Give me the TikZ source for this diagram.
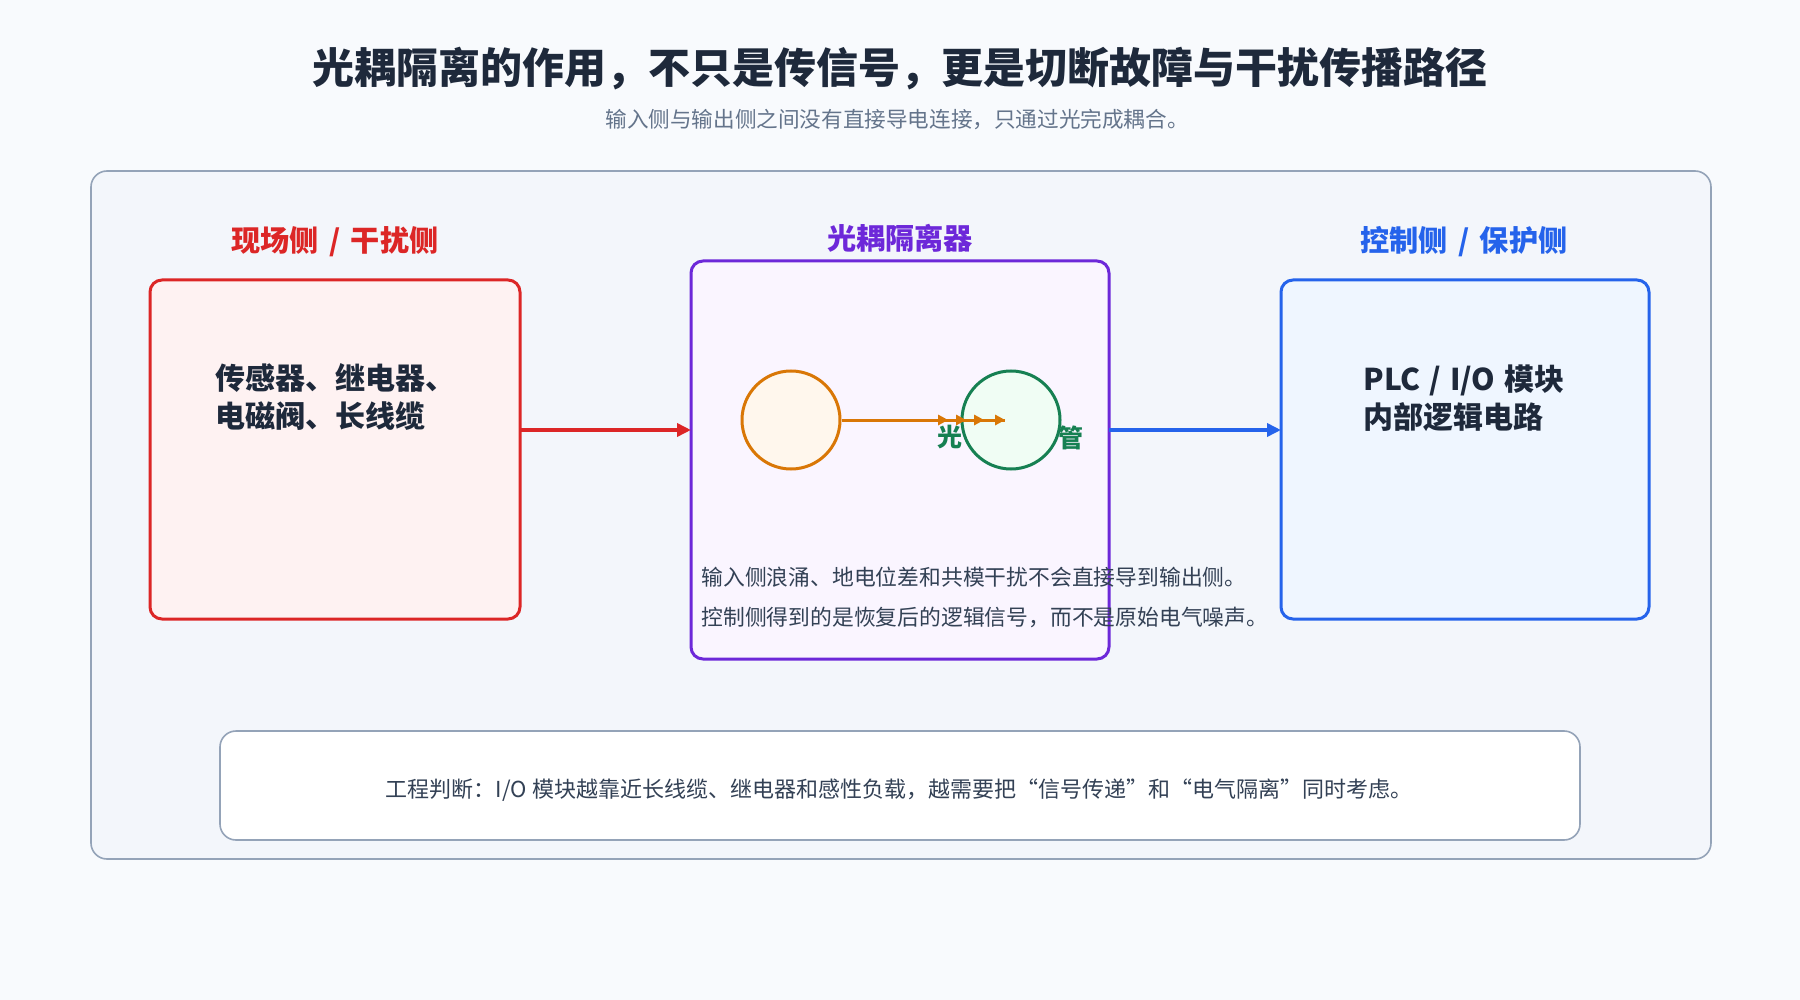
\documentclass[tikz,border=0pt]{standalone}
\usepackage{fontspec}
\setmainfont{Noto Sans CJK SC}
\usetikzlibrary{arrows.meta}
\definecolor{pagebg}{HTML}{F8FAFD}
\definecolor{titlec}{HTML}{1E293B}
\definecolor{subc}{HTML}{64748B}
\definecolor{textc}{HTML}{334155}
\definecolor{panelfill}{HTML}{F3F6FB}
\definecolor{panelline}{HTML}{94A3B8}
\definecolor{cred}{HTML}{DC2626}
\definecolor{credfill}{HTML}{FEF2F2}
\definecolor{cpurple}{HTML}{6D28D9}
\definecolor{cpurplefill}{HTML}{FAF5FF}
\definecolor{cblue}{HTML}{2563EB}
\definecolor{cbluefill}{HTML}{EFF6FF}
\definecolor{corange}{HTML}{D97706}
\definecolor{corangefill}{HTML}{FFF7ED}
\definecolor{cgreen}{HTML}{168052}
\definecolor{cgreenfill}{HTML}{F0FDF4}
\newcommand{\fs}[1]{\fontsize{#1}{1.2\dimexpr#1\relax}\selectfont}
\newcommand{\myslash}{\hspace{0.35em}/\hspace{0.35em}}
\begin{document}
\begin{tikzpicture}[x=0.5pt,y=-0.5pt,
  box/.style={draw, line width=1.5pt, rounded corners=6pt},
  sidelabel/.style={font=\fs{14.6pt}\bfseries, inner sep=0pt},
  boxtext/.style={font=\fs{15pt}\bfseries, text=titlec, align=left, anchor=west, inner sep=0pt},
  bodytext/.style={font=\fs{10.9pt}, text=textc, anchor=west, inner sep=0pt},
  flowarrow/.style={line width=2pt, -{Triangle[length=7pt,width=6.5pt]}},
  bulb/.style={circle, line width=1.5pt, minimum size=98pt*0.5, inner sep=0pt}
]
\fill[pagebg] (0,0) rectangle (1800,1000);
\useasboundingbox (0,0) rectangle (1800,1000);

% title
\node[font=\fs{21pt}\bfseries, text=titlec, inner sep=0pt] (title) at (900,69) {光耦隔离的作用，不只是传信号，更是切断故障与干扰传播路径};
\node[font=\fs{10.8pt}, text=subc, inner sep=0pt] (subtitle) at (897,119) {输入侧与输出侧之间没有直接导电连接，只通过光完成耦合。};

% outer panel
\draw[fill=panelfill, draw=panelline, line width=0.8pt, rounded corners=8pt] (91,171) rectangle (1711,859);

% side labels
\node[sidelabel, text=cred] (lredlab) at (335,242) {现场侧\myslash 干扰侧};
\node[sidelabel, text=cpurple] (lpurlab) at (900,238) {光耦隔离器};
\node[sidelabel, text=cblue] (lbluelab) at (1464,242) {控制侧\myslash 保护侧};

% boxes
\draw[box, draw=cred, fill=credfill] (150,280) rectangle (520,619);
\coordinate (Lw) at (150,449.5); \coordinate (Le) at (520,449.5);
\draw[box, draw=cpurple, fill=cpurplefill] (691,261) rectangle (1109,659);
\coordinate (Mw) at (691,460); \coordinate (Me) at (1109,460);
\draw[box, draw=cblue, fill=cbluefill] (1281,280) rectangle (1649,619);
\coordinate (Rw) at (1281,449.5);

\node[boxtext] (ltext) at (215,397) {传感器、继电器、\\[1pt]电磁阀、长线缆};
\node[boxtext] (rtext) at (1363,398) {PLC\hspace{0.3em}/\hspace{0.3em}I/O\hspace{0.3em}模块\\[1pt]内部逻辑电路};

% connectors between boxes
\coordinate (lvl) at (0,430);
\draw[flowarrow, cred] (Le |- lvl) -- (Mw |- lvl);
\draw[flowarrow, cblue] (Me |- lvl) -- (Rw |- lvl);

% optocoupler inside
\node[font=\fs{12.5pt}\bfseries, text=cgreen, inner sep=0pt] (guang) at (950,437) {光};
\node[font=\fs{12.5pt}\bfseries, text=cgreen, inner sep=0pt] (guan) at (1071,438) {管};
\node[bulb, draw=corange, fill=corangefill] (led) at (791,420) {};
\node[bulb, draw=cgreen, fill=cgreenfill] (pt) at (1011,420) {};
\coordinate (lightend) at (1005,420);
\draw[corange, line width=1.5pt] (led.east) -- (lightend);
\foreach \xx in {948,966,984,1005}{
  \fill[corange] (\xx,420) -- (\xx-10,414.5) -- (\xx-10,425.5) -- cycle;
}

\node[bodytext] (m1) at (701,577) {输入侧浪涌、地电位差和共模干扰不会直接导到输出侧。};
\node[bodytext] (m2) at (701,617) {控制侧得到的是恢复后的逻辑信号，而不是原始电气噪声。};

% bottom note
\draw[fill=white, draw=panelline, line width=0.8pt, rounded corners=8pt] (220,731) rectangle (1580,840);
\node[font=\fs{11pt}, text=textc, inner sep=0pt] (note) at (899,790) {工程判断：I/O 模块越靠近长线缆、继电器和感性负载，越需要把“信号传递”和“电气隔离”同时考虑。};
\end{tikzpicture}
\end{document}
